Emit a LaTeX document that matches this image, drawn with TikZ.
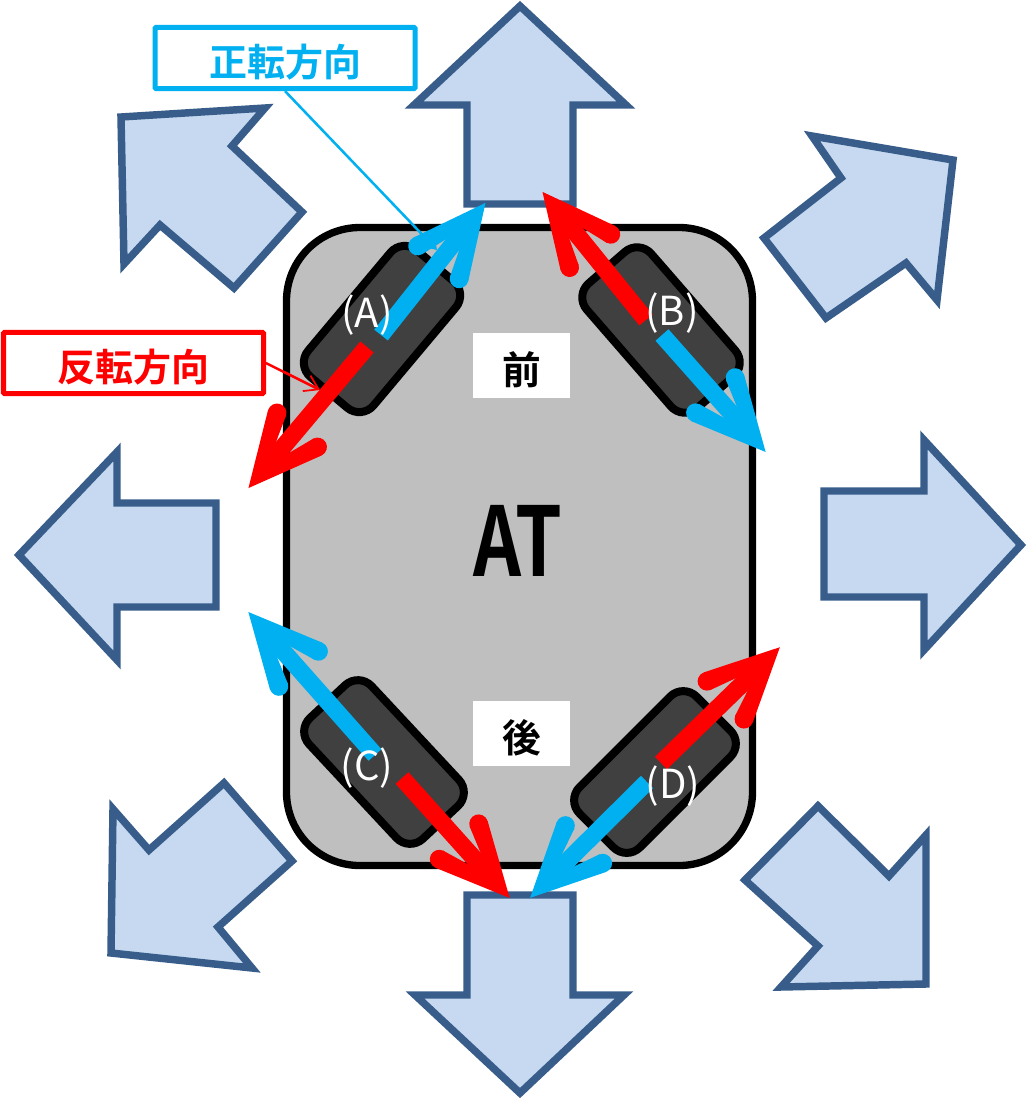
\documentclass[tikz,border=0pt]{standalone}
\usepackage{fontspec}
\newfontfamily\cjk{Noto Sans CJK JP}[BoldFont=Noto Sans CJK JP Bold]
\usetikzlibrary{calc,arrows.meta}
\definecolor{cw}{HTML}{00B0F0}
\definecolor{ccw}{HTML}{FF0000}
\definecolor{blockfill}{HTML}{C6D9F1}
\definecolor{blockedge}{HTML}{385D8A}
\newcommand{\lowered}[1]{\raisebox{-3pt}[\height][\depth]{#1}}
\tikzset{
  x=0.75pt,y=-0.75pt,
  block/.style={draw=blockedge,fill=blockfill,line width=5.6pt,miter limit=10,line join=miter},
  carbody/.style={draw=black,fill=black!25,line width=5.5pt,rounded corners=55pt,minimum width=349.5pt,minimum height=478.5pt,inner sep=0pt,outer sep=0pt},
  wheel/.style={draw=black,fill=black!75,line width=6pt,rounded corners=14pt,minimum width=124pt,minimum height=64pt,inner sep=0pt,outer sep=0pt},
  wheellabel/.style={text=white,font=\cjk\fontsize{30}{30}\selectfont,inner sep=0pt},
  sidelabel/.style={fill=white,minimum width=72.75pt,minimum height=48.75pt,inner sep=0pt,font=\cjk\bfseries\fontsize{29}{29}\selectfont},
  callbox/.style={fill=white,line width=3.75pt,minimum width=195pt,minimum height=46pt,inner sep=0pt,outer sep=1.8pt,rounded corners=0.8pt,font=\cjk\bfseries\fontsize{28.5}{29}\selectfont},
  callline/.style={line width=1.9pt,-{Straight Barb[length=10pt,width=13pt,line width=1.3pt]}},
  shaft/.style={line width=13pt,shorten >=28pt},
  head/.pic={
    \fill[pic actions] (-4,0) -- (68,35) -- (76,18) -- (49,8.5) -- (49,-8.5) -- (76,-18) -- (68,-35) -- cycle;
    \fill[pic actions] (72,26.5) circle[radius=7pt] (72,-26.5) circle[radius=7pt];
  }
}
\newcommand{\wheelarrow}[3]{%
  \draw[shaft,draw=#1] (#2) -- (#3);
  \path let \p1=($(#2)-(#3)$), \n1={atan2(\y1,\x1)} in
    pic[fill=#1,rotate=\n1] at (#3) {head};
}
\begin{document}
\begin{tikzpicture}
\useasboundingbox (0,0) rectangle (1029,1101);
% block arrows
\draw[block] (520,6) -- (626,105) -- (573,105) -- (573,204) -- (467,204) -- (467,105) -- (414,105) -- cycle;
\draw[block] (121,117) -- (265,108) -- (232,146) -- (302,212) -- (234,288) -- (160,225) -- (124,264) -- cycle;
\draw[block] (812,136) -- (953,160) -- (937,300) -- (906,263) -- (826,318) -- (764,238) -- (841,178) -- cycle;
\draw[block] (19,555) -- (117,452) -- (117,503) -- (216,503) -- (216,607) -- (117,607) -- (117,660) -- cycle;
\draw[block] (1021,545) -- (924,440) -- (924,491) -- (824,491) -- (824,597) -- (924,597) -- (924,650) -- cycle;
\draw[block] (520,1093) -- (415,995) -- (467,995) -- (467,895) -- (573,895) -- (573,995) -- (624,995) -- cycle;
\draw[block] (113,809) -- (149,850) -- (224,783) -- (292,861) -- (218,927) -- (252,968) -- (111,953) -- cycle;
\draw[block] (926,835) -- (926,984) -- (781,987) -- (818,946) -- (745,880) -- (818,806) -- (889,876) -- cycle;
% body
\node[carbody] (body) at (519.5,546.5) {};
\node[font=\cjk\bfseries\fontsize{72}{72}\selectfont,xscale=0.78,inner sep=0pt] (at) at (518,541) {AT};
\node[sidelabel] (front) at (521.5,365.5) {\lowered{前}};
\node[sidelabel] (rear) at (521.5,733.5) {\lowered{後}};
% wheels
\node[wheel,rotate=50] (wa) at (382,329) {};
\node[wheel,rotate=-49] (wb) at (661,330) {};
\node[wheel,rotate=-47] (wc) at (384,762) {};
\node[wheel,rotate=45] (wd) at (655,772) {};
% callouts
\node[callbox,draw=cw,text=cw] (bluebox) at (285,58) {\lowered{正転方向}};
\node[callbox,draw=ccw,text=ccw] (redbox) at (133.5,363) {\lowered{反転方向}};
\coordinate (bluetip) at (437,250);
\coordinate (redtip) at (320,390);
\draw[callline,draw=cw] (bluebox.south) -- (bluetip);
\draw[callline,draw=ccw] (redbox.east) -- (redtip);
% wheel arrows
\coordinate (as) at (381,335); \coordinate (at1) at (483,206);
\coordinate (ar) at (367,347); \coordinate (at2) at (251,485);
\coordinate (bs) at (662,335); \coordinate (bt1) at (763,449);
\coordinate (br) at (646,320); \coordinate (bt2) at (545,195);
\coordinate (cs) at (375,755); \coordinate (ct1) at (251,615);
\coordinate (cr) at (402,778); \coordinate (ct2) at (507,895);
\coordinate (ds) at (647,782); \coordinate (dt1) at (533,895);
\coordinate (dr) at (661,763); \coordinate (dt2) at (777,650);
\wheelarrow{cw}{as}{at1}
\wheelarrow{ccw}{ar}{at2}
\wheelarrow{cw}{bs}{bt1}
\wheelarrow{ccw}{br}{bt2}
\wheelarrow{cw}{cs}{ct1}
\wheelarrow{ccw}{cr}{ct2}
\wheelarrow{cw}{ds}{dt1}
\wheelarrow{ccw}{dr}{dt2}
% wheel labels
\node[wheellabel] (la) at (367,315) {(A)};
\node[wheellabel] (lb) at (672,313) {(B)};
\node[wheellabel] (lc) at (367,768) {(C)};
\node[wheellabel] (ld) at (673,786) {(D)};
\end{tikzpicture}
\end{document}
